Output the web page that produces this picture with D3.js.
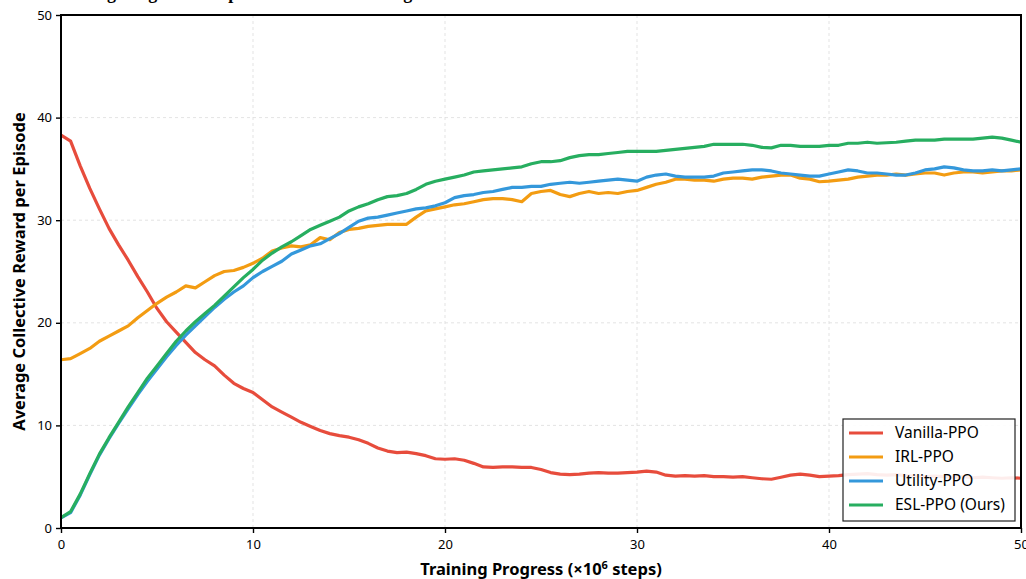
<!DOCTYPE html>
<html>
<head>
<meta charset="utf-8">
<script src="https://cdn.jsdelivr.net/npm/d3@7/dist/d3.min.js"></script>
<style>
  body { margin: 0; background: #fff; }
  svg { display: block; font-family: 'Noto Sans', sans-serif; }
</style>
</head>
<body>
<div id="chart-container"></div>
<script>
// Values, one sample every 0.5 x10^6 steps (0 .. 50)
const vanillaPPO = [
  38.3, 37.7, 35.3, 33.1, 31.1, 29.2, 27.6, 26.1, 24.5, 23.0,
  21.4, 20.1, 19.1, 18.1, 17.1, 16.4, 15.8, 14.9, 14.1, 13.6,
  13.2, 12.5, 11.8, 11.3, 10.8, 10.3, 9.9, 9.5, 9.2, 9.0,
  8.85, 8.6, 8.25, 7.8, 7.5, 7.35, 7.4, 7.25, 7.05, 6.75,
  6.7, 6.75, 6.6, 6.3, 5.95, 5.9, 5.95, 5.95, 5.9, 5.9,
  5.7, 5.4, 5.25, 5.2, 5.25, 5.35, 5.4, 5.35, 5.35, 5.4,
  5.45, 5.55, 5.45, 5.15, 5.05, 5.1, 5.05, 5.1, 5.0, 5.0,
  4.95, 5.0, 4.9, 4.8, 4.75, 4.95, 5.15, 5.25, 5.15, 5.0,
  5.05, 5.1, 5.2, 5.25, 5.3, 5.2, 5.15, 5.2, 5.1, 5.05,
  5.0, 5.05, 5.0, 4.95, 5.0, 4.9, 4.95, 4.9, 4.85, 4.9,
  4.85
]
const irlPPO = [
  16.4, 16.5, 17.0, 17.5, 18.2, 18.7, 19.2, 19.7, 20.5, 21.2,
  21.9, 22.5, 23.0, 23.6, 23.4, 24.0, 24.6, 25.0, 25.1, 25.4,
  25.8, 26.3, 27.0, 27.3, 27.5, 27.4, 27.6, 28.3, 28.1, 28.8,
  29.1, 29.2, 29.4, 29.5, 29.6, 29.6, 29.6, 30.3, 30.9, 31.1,
  31.3, 31.5, 31.6, 31.8, 32.0, 32.1, 32.1, 32.0, 31.8, 32.6,
  32.8, 32.9, 32.5, 32.3, 32.6, 32.8, 32.6, 32.7, 32.6, 32.8,
  32.9, 33.2, 33.5, 33.7, 34.0, 34.0, 33.9, 33.9, 33.8, 34.0,
  34.1, 34.1, 34.0, 34.2, 34.3, 34.4, 34.4, 34.1, 34.0, 33.75,
  33.8, 33.9, 34.0, 34.2, 34.3, 34.4, 34.4, 34.5, 34.4, 34.5,
  34.6, 34.6, 34.4, 34.6, 34.7, 34.7, 34.6, 34.7, 34.8, 34.8,
  34.9
]
const utilityPPO = [
  1.0, 1.5, 3.2, 5.2, 7.1, 8.7, 10.2, 11.6, 13.0, 14.3,
  15.5, 16.7, 17.8, 18.8, 19.7, 20.6, 21.5, 22.3, 23.0, 23.6,
  24.4, 25.0, 25.5, 26.0, 26.7, 27.1, 27.5, 27.7, 28.2, 28.7,
  29.3, 29.9, 30.2, 30.3, 30.5, 30.7, 30.9, 31.1, 31.2, 31.4,
  31.7, 32.2, 32.4, 32.5, 32.7, 32.8, 33.0, 33.2, 33.2, 33.3,
  33.3, 33.5, 33.6, 33.7, 33.6, 33.7, 33.8, 33.9, 34.0, 33.9,
  33.8, 34.2, 34.4, 34.5, 34.3, 34.2, 34.2, 34.2, 34.3, 34.6,
  34.7, 34.8, 34.9, 34.9, 34.8, 34.6, 34.5, 34.4, 34.3, 34.3,
  34.5, 34.7, 34.9, 34.8, 34.6, 34.6, 34.5, 34.4, 34.4, 34.6,
  34.9, 35.0, 35.2, 35.1, 34.9, 34.8, 34.8, 34.9, 34.8, 34.9,
  35.0
]
const eslPPO = [
  1.0, 1.6, 3.3, 5.3, 7.2, 8.8, 10.3, 11.8, 13.2, 14.6,
  15.8, 17.0, 18.2, 19.2, 20.1, 20.9, 21.7, 22.6, 23.5, 24.4,
  25.2, 26.1, 26.8, 27.4, 27.9, 28.5, 29.1, 29.5, 29.9, 30.3,
  30.9, 31.3, 31.6, 32.0, 32.3, 32.4, 32.6, 33.0, 33.5, 33.8,
  34.0, 34.2, 34.4, 34.7, 34.8, 34.9, 35.0, 35.1, 35.2, 35.5,
  35.7, 35.7, 35.8, 36.1, 36.3, 36.4, 36.4, 36.5, 36.6, 36.7,
  36.7, 36.7, 36.7, 36.8, 36.9, 37.0, 37.1, 37.2, 37.4, 37.4,
  37.4, 37.4, 37.3, 37.1, 37.05, 37.3, 37.3, 37.2, 37.2, 37.2,
  37.3, 37.3, 37.5, 37.5, 37.6, 37.5, 37.55, 37.6, 37.7, 37.8,
  37.8, 37.8, 37.9, 37.9, 37.9, 37.9, 38.0, 38.1, 38.0, 37.8,
  37.6
]
const seriesNames = ['Vanilla-PPO', 'IRL-PPO', 'Utility-PPO', 'ESL-PPO (Ours)']
const xTicks = [0, 10, 20, 30, 40, 50]
const yTicks = [0, 10, 20, 30, 40, 50]

class RewardChart {
    constructor(series, options) {
        this.series = series
        this.width = options.width
        this.height = options.height
        this.margin = options.margin
        this.colors = ['#e74c3c', '#f39c12', '#3498db', '#27ae60']
        this.steps = d3.range(0, 50.0001, 0.5)
        this.lineWidth = 3.2

        this.x = d3.scaleLinear().domain([0, 50])
            .range([this.margin.left, this.width - this.margin.right])
        this.y = d3.scaleLinear().domain([0, 50])
            .range([this.height - this.margin.bottom, this.margin.top])

        this.svg = d3.select('#chart-container').append('svg')
            .attr('width', this.width)
            .attr('height', this.height)
    }

    plot() {
        this.#drawTitle()
        this.#drawGrid()
        this.#drawLines()
        this.#drawAxes()
        this.#drawLegend()
    }

    #drawTitle() {
        // the title sits above the canvas; only its descenders show
        this.svg.append('text')
            .attr('x', 45)
            .attr('y', -1)
            .attr('font-family', "'Liberation Serif', serif")
            .attr('font-weight', 'bold')
            .attr('font-size', 18)
            .text('Learning Progress Comparison Across Training')
    }

    #drawGrid() {
        const grid = this.svg.append('g')
            .attr('stroke', '#dcdcdc')
            .attr('stroke-width', 0.8)
            .attr('stroke-dasharray', '3,3')
        grid.selectAll('.vgrid').data(xTicks).enter().append('line')
            .attr('x1', d => this.x(d)).attr('x2', d => this.x(d))
            .attr('y1', this.y(0)).attr('y2', this.y(50))
        grid.selectAll('.hgrid').data(yTicks).enter().append('line')
            .attr('y1', d => this.y(d)).attr('y2', d => this.y(d))
            .attr('x1', this.x(0)).attr('x2', this.x(50))
    }

    #drawLines() {
        this.svg.append('clipPath').attr('id', 'plot-clip')
            .append('rect')
            .attr('x', this.x(0)).attr('y', this.y(50))
            .attr('width', this.x(50) - this.x(0))
            .attr('height', this.y(0) - this.y(50))

        const line = d3.line()
            .x((d, i) => this.x(this.steps[i]))
            .y(d => this.y(d))

        this.svg.append('g')
            .attr('clip-path', 'url(#plot-clip)')
            .selectAll('path')
            .data(this.series)
            .enter()
            .append('path')
            .attr('d', d => line(d))
            .attr('fill', 'none')
            .attr('stroke', (d, i) => this.colors[i])
            .attr('stroke-width', this.lineWidth)
            .attr('stroke-linejoin', 'round')
    }

    #drawAxes() {
        const xAxis = d3.axisBottom(this.x).tickValues(xTicks)
            .tickSize(5).tickSizeOuter(0).tickPadding(7)
        const gx = this.svg.append('g')
            .attr('transform', 'translate(0,' + this.y(0) + ')')
            .call(xAxis)

        const yAxis = d3.axisLeft(this.y).tickValues(yTicks)
            .tickSize(5).tickSizeOuter(0).tickPadding(4)
        const gy = this.svg.append('g')
            .attr('transform', 'translate(' + this.x(0) + ',0)')
            .call(yAxis)

        for (const g of [gx, gy]) {
            g.select('.domain').remove()
            g.selectAll('.tick line').attr('stroke', '#000').attr('stroke-width', 1.4)
            g.selectAll('.tick text')
                .attr('font-family', "'Noto Sans', sans-serif")
                .attr('font-size', 13)
                .attr('fill', '#000')
        }

        // frame around the plot area
        this.svg.append('rect')
            .attr('x', this.x(0)).attr('y', this.y(50))
            .attr('width', this.x(50) - this.x(0))
            .attr('height', this.y(0) - this.y(50))
            .attr('fill', 'none')
            .attr('stroke', '#000')
            .attr('stroke-width', 2)

        const xLabel = this.svg.append('text')
            .attr('x', (this.x(0) + this.x(50)) / 2)
            .attr('y', this.height - 4)
            .attr('text-anchor', 'middle')
            .attr('font-weight', 'bold')
            .attr('font-size', 16.5)
        xLabel.append('tspan').text('Training Progress (×10')
        xLabel.append('tspan').attr('dy', -6).attr('font-size', 11).text('6')
        xLabel.append('tspan').attr('dy', 6).text(' steps)')

        this.svg.append('text')
            .attr('transform', 'translate(25,' + (this.y(0) + this.y(50)) / 2 + ') rotate(-90)')
            .attr('text-anchor', 'middle')
            .attr('font-weight', 'bold')
            .attr('font-size', 16.5)
            .text('Average Collective Reward per Episode')
    }

    #drawLegend() {
        const boxW = 172
        const boxH = 102
        const left = this.x(50) - boxW - 6
        const top = this.y(0) - boxH - 7
        const legend = this.svg.append('g')
            .attr('transform', 'translate(' + left + ',' + top + ')')

        legend.append('rect')
            .attr('width', boxW).attr('height', boxH)
            .attr('fill', '#fff').attr('fill-opacity', 0.9)
            .attr('stroke', '#222').attr('stroke-width', 1.2)

        const items = legend.selectAll('.legend-item')
            .data(seriesNames)
            .enter()
            .append('g')
            .attr('class', 'legend-item')
            .attr('transform', (d, i) => 'translate(0,' + (14 + i * 24) + ')')

        items.append('line')
            .attr('x1', 6).attr('x2', 40)
            .attr('stroke', (d, i) => this.colors[i])
            .attr('stroke-width', this.lineWidth)

        items.append('text')
            .attr('x', 52)
            .attr('dy', '0.35em')
            .attr('font-size', 15.5)
            .text(d => d)
    }
}

const chart = new RewardChart([vanillaPPO, irlPPO, utilityPPO, eslPPO], {
    width: 1026,
    height: 579,
    margin: { top: 15, right: 5, bottom: 51, left: 61 }
})
chart.plot()
</script>
</body>
</html>
